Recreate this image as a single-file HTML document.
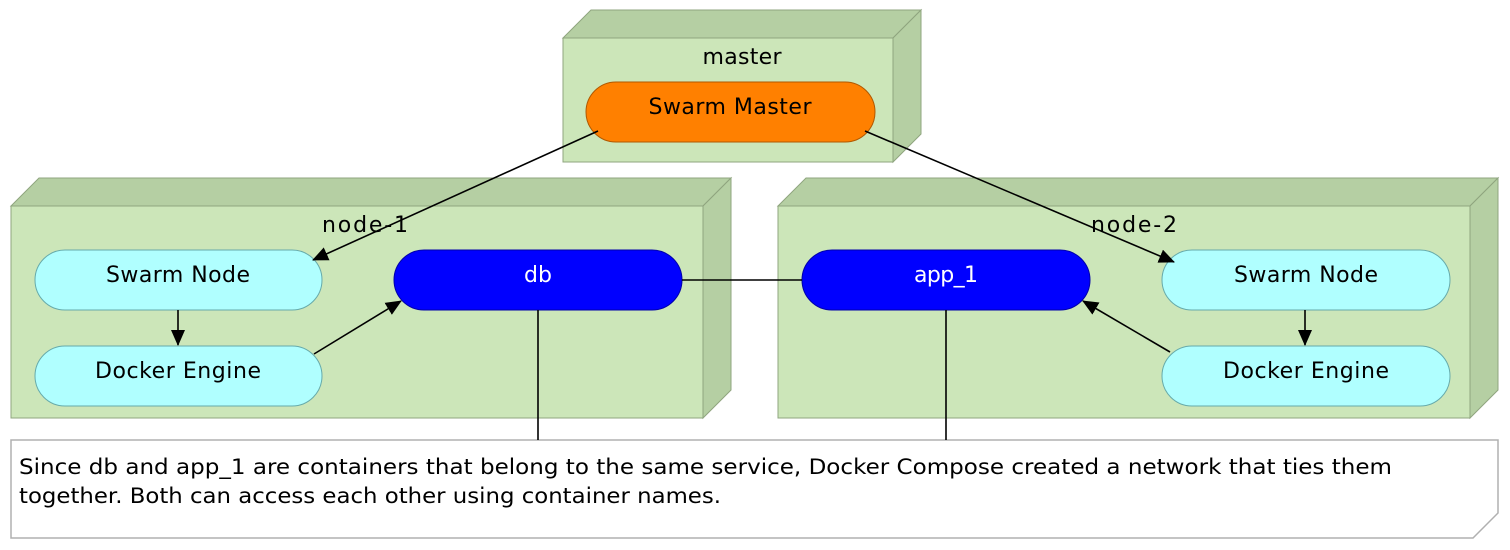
<!DOCTYPE html>
<html><head><style>
body{margin:0;width:1510px;height:550px;background:#fff;font-family:"DejaVu Sans","Liberation Sans",sans-serif;}
</style></head><body>
<svg width="1510" height="550" xmlns="http://www.w3.org/2000/svg" style="position:absolute;left:0;top:0">
<defs><marker id="a" markerWidth="16" markerHeight="14" refX="15" refY="7" orient="auto" markerUnits="userSpaceOnUse"><path d="M0,0 L16,7 L0,14 z" fill="#000"/></marker></defs>
<g stroke="#8fa57f" stroke-width="1">
<polygon points="563,38 591,10 921,10 893,38" fill="#b5cfa3"/>
<polygon points="893,38 921,10 921,134 893,162" fill="#b5cfa3"/>
<rect x="563" y="38" width="330" height="124" fill="#cce6b9"/>
<polygon points="11,206 39,178 731,178 703,206" fill="#b5cfa3"/>
<polygon points="703,206 731,178 731,390 703,418" fill="#b5cfa3"/>
<rect x="11" y="206" width="692" height="212" fill="#cce6b9"/>
<polygon points="778,206 806,178 1498,178 1470,206" fill="#b5cfa3"/>
<polygon points="1470,206 1498,178 1498,390 1470,418" fill="#b5cfa3"/>
<rect x="778" y="206" width="692" height="212" fill="#cce6b9"/>
</g>
<polygon points="11,440 1498,440 1498,513 1473,538 11,538" fill="#fff" stroke="#b0b0b0" stroke-width="1.5"/>
<g font-size="22" text-anchor="middle" fill="#000">
<text x="742" y="64" textLength="79">master</text>
<text x="365" y="232" textLength="86">node-1</text>
<text x="1134" y="232" textLength="86">node-2</text>
</g>
<g stroke="#6aa" stroke-width="1">
<rect x="35" y="250" width="287" height="60" rx="30" fill="#b0ffff"/>
<rect x="35" y="346" width="287" height="60" rx="30" fill="#b0ffff"/>
<rect x="1162" y="250" width="288" height="60" rx="30" fill="#b0ffff"/>
<rect x="1162" y="346" width="288" height="60" rx="30" fill="#b0ffff"/>
</g>
<rect x="394" y="250" width="288" height="60" rx="30" fill="#0000ff" stroke="#0000aa"/>
<rect x="802" y="250" width="288" height="60" rx="30" fill="#0000ff" stroke="#0000aa"/>
<rect x="586" y="82" width="289" height="60" rx="30" fill="#ff8000" stroke="#b05800"/>
<g stroke="#000" stroke-width="1.6" fill="none">
<line x1="598" y1="131" x2="313" y2="260" marker-end="url(#a)"/>
<line x1="865" y1="131" x2="1174" y2="262" marker-end="url(#a)"/>
<line x1="178" y1="310" x2="178" y2="345" marker-end="url(#a)"/>
<line x1="1305" y1="310" x2="1305" y2="345" marker-end="url(#a)"/>
<line x1="314" y1="354" x2="401" y2="301" marker-end="url(#a)"/>
<line x1="1170" y1="352" x2="1083" y2="301" marker-end="url(#a)"/>
<line x1="682" y1="280" x2="802" y2="280"/>
<line x1="538" y1="310" x2="538" y2="440"/>
<line x1="946" y1="310" x2="946" y2="440"/>
</g>
<g font-size="22" text-anchor="middle">
<text x="730" y="114" fill="#000" textLength="163">Swarm Master</text>
<text x="178" y="282" fill="#000" textLength="144">Swarm Node</text>
<text x="178" y="378" fill="#000" textLength="166">Docker Engine</text>
<text x="1306" y="282" fill="#000" textLength="144">Swarm Node</text>
<text x="1306" y="378" fill="#000" textLength="166">Docker Engine</text>
<text x="538" y="282" fill="#fff">db</text>
<text x="946" y="282" fill="#fff" textLength="64">app_1</text>
</g>
<g font-size="21" fill="#000">
<text x="19" y="474" textLength="1373" lengthAdjust="spacingAndGlyphs">Since db and app_1 are containers that belong to the same service, Docker Compose created a network that ties them</text>
<text x="19" y="503" textLength="702" lengthAdjust="spacingAndGlyphs">together. Both can access each other using container names.</text>
</g>
</svg>
</body></html>
